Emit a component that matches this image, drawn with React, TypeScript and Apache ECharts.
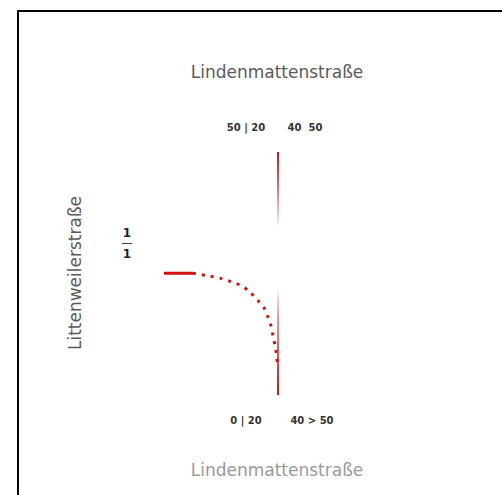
import React, { useEffect, useRef } from "react";
import * as echarts from "echarts";

const titleText = "Lindenmattenstraße";
const xAxisName = "Lindenmattenstraße";
const yAxisName = "Littenweilerstraße";
const topTickLabels = ["50 | 20", "40  50"];
const bottomTickLabels = ["0 | 20", "40 > 50"];
const fractionLabel = ["1", "1"];

// approach segment (solid)
const approachX = [-45.6, -34];
const approachY = [50.7, 50.7];
// turning curve (dotted)
const curveX = [-34, -28, -22.9, -19.6, -16.8, -14.7, -11.6, -7.9, -5.6, -3.9, -2.9, -1.9, -0.8, -0.2];
const curveY = [50.7, 49.7, 48.7, 47.7, 46.8, 45.9, 43.8, 40.0, 37.4, 33.6, 30.8, 26.3, 20.9, 15.4];
// vertical streets
const northX = [0, 0];
const northY = [97.3, 69.2];
const southX = [0, 0];
const southY = [43.5, 3.8];

const RED = "rgba(208,18,18,1)";
const RED_FADE = "rgba(208,18,18,0.08)";

const zip = (xs: number[], ys: number[]) => xs.map((x, i) => [x, ys[i]]);

export default function App() {
  const ref = useRef<HTMLDivElement>(null);
  useEffect(() => {
    if (!ref.current) return;
    const chart = echarts.init(ref.current, undefined, { renderer: "svg" });
    const base: any = {
      animation: false,
      backgroundColor: "#ffffff",
      grid: { left: 153, width: 250, top: 145, height: 260 },
      xAxis: {
        type: "value", min: -50, max: 50,
        axisLine: { show: false }, axisTick: { show: false },
        axisLabel: { show: false }, splitLine: { show: false },
      },
      yAxis: {
        type: "value", min: 0, max: 100,
        axisLine: { show: false }, axisTick: { show: false },
        axisLabel: { show: false }, splitLine: { show: false },
      },
      graphic: [
        {
          type: "rect", shape: { x: 18, y: 11, width: 600, height: 600 },
          style: { fill: "none", stroke: "#000", lineWidth: 2 }, silent: true,
        },
        {
          type: "text", x: 277, y: 72,
          style: { text: titleText, font: "17px 'DejaVu Sans'", fill: "#5a5a5a", align: "center", verticalAlign: "middle" },
        },
        {
          type: "text", x: 277, y: 470,
          style: { text: xAxisName, font: "17px 'DejaVu Sans'", fill: "#9a9a9a", align: "center", verticalAlign: "middle" },
        },
        {
          type: "text", x: 75, y: 273, rotation: Math.PI / 2,
          style: { text: yAxisName, font: "17px 'DejaVu Sans'", fill: "#5a5a5a", align: "center", verticalAlign: "middle" },
        },
        {
          type: "text", x: 127, y: 233,
          style: { text: fractionLabel[0], font: "bold 12px 'DejaVu Sans'", fill: "#222", align: "center", verticalAlign: "middle" },
        },
        {
          type: "line", shape: { x1: 122, y1: 243.5, x2: 132, y2: 243.5 },
          style: { stroke: "#444", lineWidth: 1 },
        },
        {
          type: "text", x: 127, y: 254,
          style: { text: fractionLabel[1], font: "bold 12px 'DejaVu Sans'", fill: "#222", align: "center", verticalAlign: "middle" },
        },
        {
          type: "text", x: 246, y: 127,
          style: { text: topTickLabels[0], font: "bold 10px 'DejaVu Sans'", fill: "#333", align: "center", verticalAlign: "middle" },
        },
        {
          type: "text", x: 305, y: 127,
          style: { text: topTickLabels[1], font: "bold 10px 'DejaVu Sans'", fill: "#333", align: "center", verticalAlign: "middle" },
        },
        {
          type: "text", x: 246, y: 420,
          style: { text: bottomTickLabels[0], font: "bold 10px 'DejaVu Sans'", fill: "#333", align: "center", verticalAlign: "middle" },
        },
        {
          type: "text", x: 312, y: 420,
          style: { text: bottomTickLabels[1], font: "bold 10px 'DejaVu Sans'", fill: "#333", align: "center", verticalAlign: "middle" },
        },
      ],
      series: [
        {
          type: "line", data: zip(approachX, approachY), showSymbol: false, silent: true,
          lineStyle: { color: RED, width: 3 },
        },
        {
          type: "line", data: zip(curveX, curveY), showSymbol: false, silent: true, smooth: 0.3,
          lineStyle: { color: RED, width: 3, type: [3, 6] },
        },
        {
          type: "line", id: "north", data: zip(northX, northY), showSymbol: false, silent: true,
          lineStyle: { color: RED, width: 2 },
        },
        {
          type: "line", id: "south", data: zip(southX, southY), showSymbol: false, silent: true,
          lineStyle: { color: RED, width: 2 },
        },
      ],
    };
    chart.setOption(base);
    const p = (x: number, y: number) => chart.convertToPixel({ gridIndex: 0 }, [x, y]) as number[];
    const n0 = p(northX[0], northY[0]);
    const n1 = p(northX[1], northY[1]);
    const s0 = p(southX[0], southY[0]);
    const s1 = p(southX[1], southY[1]);
    chart.setOption({
      series: [
        {
          id: "north",
          lineStyle: {
            color: new echarts.graphic.LinearGradient(n0[0], n0[1], n1[0], n1[1], [
              { offset: 0, color: RED }, { offset: 0.5, color: "rgba(208,18,18,0.6)" }, { offset: 1, color: RED_FADE },
            ], true),
          },
        },
        {
          id: "south",
          lineStyle: {
            color: new echarts.graphic.LinearGradient(s0[0], s0[1], s1[0], s1[1], [
              { offset: 0, color: RED_FADE }, { offset: 0.25, color: "rgba(208,18,18,0.45)" }, { offset: 1, color: RED },
            ], true),
          },
        },
      ],
    });
    return () => chart.dispose();
  }, []);
  return <div ref={ref} style={{ position: "absolute", left: 0, top: 0, width: 502, height: 495 }} />;
}
